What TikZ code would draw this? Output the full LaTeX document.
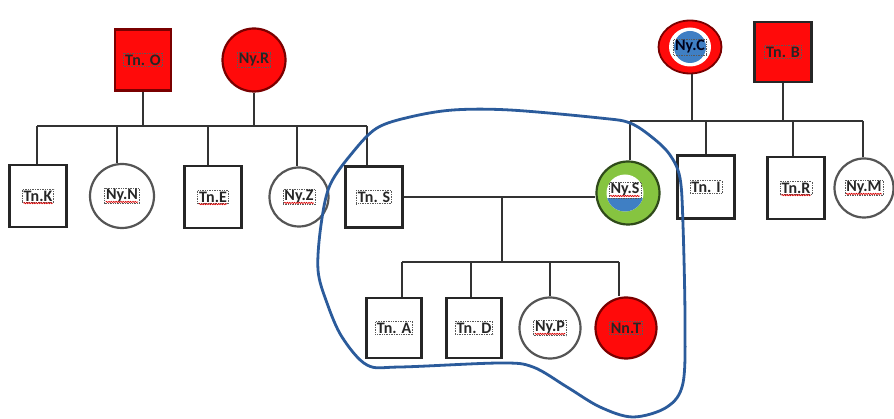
\documentclass[tikz,border=0pt]{standalone}
\usepackage{fontspec}
\setmainfont{Carlito}
\usetikzlibrary{shapes.geometric,decorations.pathmorphing}
\definecolor{lnkc}{HTML}{333333}
\definecolor{loopblue}{HTML}{2B5B9B}
\definecolor{redf}{HTML}{FF0A0A}
\definecolor{redd}{HTML}{7A0000}
\definecolor{greenf}{HTML}{86C440}
\definecolor{greend}{HTML}{2F4A1A}
\definecolor{globe}{HTML}{3F7FC4}
\definecolor{circd}{HTML}{555555}
\begin{document}
\begin{tikzpicture}[x=1pt,y=-1pt,
  lnk/.style={draw=lnkc, line width=2.4pt},
  male/.style={rectangle, draw=black!85, line width=2.2pt, fill=white, minimum width=56pt, minimum height=61pt, inner sep=0pt},
  female/.style={circle, draw=circd, line width=2.2pt, fill=white, minimum size=62pt, inner sep=0pt},
  redm/.style={male, fill=redf, draw=redd},
  redc/.style={female, fill=redf, draw=redd},
  lbl/.style={draw=gray!70!black, densely dotted, line width=0.7pt, inner sep=1.4pt, font=\fontsize{16}{16}\selectfont\bfseries, text=black!85},
  wavy/.style={draw=red!85!black, line width=0.7pt, decorate, decoration={snake, amplitude=0.6pt, segment length=2.4pt}}
]
\useasboundingbox (0,0) rectangle (894,419);
\fill[white] (0,0) rectangle (894,419);

% nodes
\node[redm, label={[lbl,name=lO]center:Tn. O}] (tO) at (143,60) {};
\node[redc, minimum size=63pt, label={[lbl,name=lR]center:Ny.R}] (nR) at (254,60) {};
\node[male, minimum width=57pt, minimum height=62pt, label={[lbl,name=lK]center:Tn.K}] (tK) at (38,196) {};
\node[female, minimum size=64pt, label={[lbl,name=lN]center:Ny.N}] (nN) at (122,196) {};
\node[male, minimum width=57pt, minimum height=62pt, label={[lbl,name=lE]center:Tn.E}] (tE) at (213,197) {};
\node[female, minimum size=59pt, label={[lbl,name=lZ]center:Ny.Z}] (nZ) at (299,197) {};
\node[male, minimum width=57pt, minimum height=61pt, label={[lbl,name=lSm]center:Tn. S}] (tS) at (374,197) {};
\node[female, fill=greenf, draw=greend, minimum size=63pt] (nS) at (628,193) {};
\node[male, minimum width=57pt, minimum height=63pt, label={[lbl,name=lI]center:Tn. I}] (tI) at (706,187) {};
\node[male, minimum width=57pt, minimum height=62pt, label={[lbl,name=lRm]center:Tn.R}] (tR) at (796,188) {};
\node[female, minimum size=59pt, label={[lbl,name=lM]center:Ny.M}] (nM) at (864,188) {};
\node[ellipse, draw=redd, line width=1.8pt, fill=redf, minimum width=63pt, minimum height=53pt, inner sep=0pt] (nC) at (690,47) {};
\node[male, fill=redf, minimum width=57pt, minimum height=60pt, label={[lbl,name=lB]center:Tn. B}] (tB) at (783,52) {};
\node[male, minimum width=55pt, minimum height=60pt, label={[lbl,name=lA]center:Tn. A}] (tA) at (394,328) {};
\node[male, minimum width=55pt, minimum height=60pt, label={[lbl,name=lD]center:Tn. D}] (tD) at (474,328) {};
\node[female, minimum size=61pt, label={[lbl,name=lP]center:Ny.P}] (nP) at (550,328) {};
\node[redc, minimum size=61pt, label={[lbl,name=lT]center:Nn.T}] (nT) at (626,328) {};

% Ny.S inner
\fill[white] ([xshift=-3pt]nS.center) circle (18.5pt);
\begin{scope}
  \clip ([xshift=-3pt]nS.center) circle (18.5pt);
  \fill[globe] ([xshift=-25pt,yshift=-5pt]nS.center) rectangle ([xshift=20pt,yshift=-30pt]nS.center);
\end{scope}
\node[lbl] (lS) at ([xshift=-3pt,yshift=3pt]nS.center) {Ny.S};

% Ny.C inner
\fill[white] (nC.center) ellipse (21pt and 19.5pt);
\fill[globe] (nC.center) ellipse (16pt and 16pt);
\node[lbl, text=black!90!blue] (lC) at (nC.center) {Ny.C};

% bus coordinates
\coordinate (dK) at (37,126);
\coordinate (dN) at (117,126);
\coordinate (dE) at (208,126);
\coordinate (dZ) at (297,126);
\coordinate (dS) at (367,126);
\coordinate (dSr) at (630,121);
\coordinate (dI) at (706,121);
\coordinate (dR) at (793,121);
\coordinate (dM) at (863,121);
\coordinate (mS) at (502,197);
\coordinate (dA) at (402,262);
\coordinate (dD) at (471,262);
\coordinate (dP) at (550,262);
\coordinate (dT) at (619,262);

% left family
\draw[lnk] (dK) -- (dS);
\draw[lnk] (tO.south) -- (tO.south |- dK);
\draw[lnk] (nR.south) -- (nR.south |- dK);
\draw[lnk] (dK) -- (dK |- tK.north);
\draw[lnk] (dN) -- (dN |- nN.north);
\draw[lnk] (dE) -- (dE |- tE.north);
\draw[lnk] (dZ) -- (dZ |- nZ.north);
\draw[lnk] (dS) -- (dS |- tS.north);

% right family
\draw[lnk] (dSr) -- (dM);
\draw[lnk] ([xshift=2pt]nC.south) -- ([xshift=2pt]nC.south |- dSr);
\draw[lnk] (tB.south) -- (tB.south |- dSr);
\draw[lnk] (dSr) -- (dSr |- nS.north);
\draw[lnk] (dI) -- (dI |- tI.north);
\draw[lnk] (dR) -- (dR |- tR.north);
\draw[lnk] (dM) -- (dM |- nM.north);

% marriage and children
\draw[lnk] (tS.east) -- (tS.east -| nS.west);
\draw[lnk] (mS) -- (mS |- dA);
\draw[lnk] (dA) -- (dT);
\draw[lnk] (dA) -- (dA |- tA.north);
\draw[lnk] (dD) -- (dD |- tD.north);
\draw[lnk] (dP) -- (dP |- nP.north);
\draw[lnk] (dT) -- (dT |- nT.north);

% spell-check underlines
\foreach \n in {lK,lN,lE,lZ,lRm,lM,lP,lS}
  \draw[wavy] ([xshift=1.5pt,yshift=-2pt]\n.base west) -- ([xshift=-1.5pt,yshift=-2pt]\n.base east);

% hand-drawn loop
\draw[loopblue, line width=2.8pt, line join=round] plot[smooth cycle, tension=0.55] coordinates {
  (330,185) (353,152) (377,128) (410,117) (453,110) (510,110) (600,118) (630,123)
  (653,138) (670,155) (680,178) (683,225) (685,320) (683,383) (667,407) (633,417)
  (600,407) (567,387) (533,367) (500,363) (400,367) (367,365) (342,337)
  (327,303) (318,270) (321,225)};
\end{tikzpicture}
\end{document}
